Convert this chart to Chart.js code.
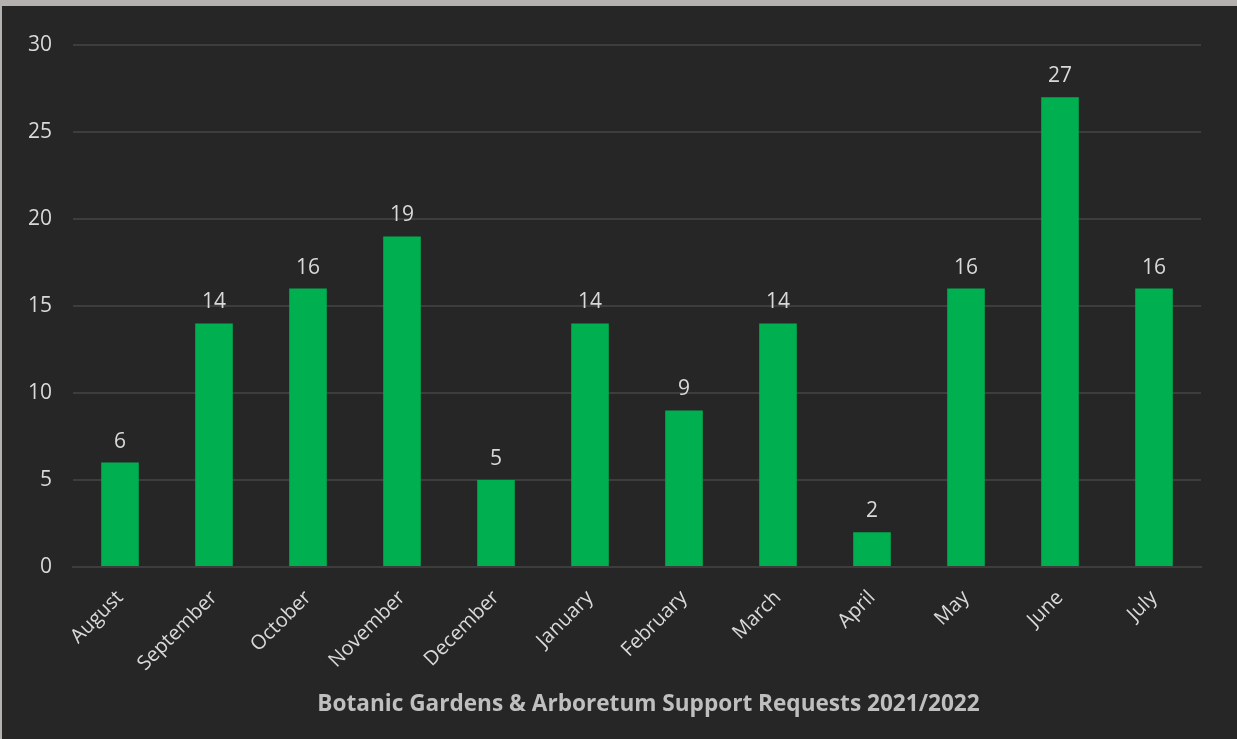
<!DOCTYPE html>
<html>
<head>
<meta charset="utf-8">
<script src="https://cdn.jsdelivr.net/npm/chart.js@4/dist/chart.umd.min.js"></script>
<style>
  html, body { margin: 0; padding: 0; background: #262626; }
  .frame {
    width: 1235px; height: 733px;
    border-top: 6px solid #b5b1af;
    border-left: 2px solid #b5b1af;
    background: #262626;
  }
  canvas { display: block; }
</style>
</head>
<body>
<div class="frame">
  <canvas id="myChart" width="1235" height="733"></canvas>
</div>
<script>
const months = ["August", "September", "October", "November", "December", "January",
  "February", "March", "April", "May", "June", "July"];
const requests = [6, 14, 16, 19, 5, 14, 9, 14, 2, 16, 27, 16];
const yTicks = [0, 5, 10, 15, 20, 25, 30];
const chartTitle = "Botanic Gardens & Arboretum Support Requests 2021/2022";

const textColor = "#d9d9d9";
const fontFamily = "'Open Sans', 'Noto Sans', sans-serif";

// value labels above each bar
const barValues = {
  id: "barValues",
  afterDatasetsDraw(chart) {
    const { ctx } = chart;
    const meta = chart.getDatasetMeta(0);
    ctx.save();
    ctx.fillStyle = textColor;
    ctx.font = "21px " + fontFamily;
    ctx.textAlign = "center";
    ctx.textBaseline = "alphabetic";
    meta.data.forEach((bar, i) => {
      ctx.fillText(String(requests[i]), bar.x, bar.y - 15);
    });
    ctx.restore();
  },
};

// axis title under the month labels
const bottomTitle = {
  id: "bottomTitle",
  afterDraw(chart) {
    const { ctx } = chart;
    ctx.save();
    ctx.fillStyle = "#bfbfbf";
    ctx.font = "bold 22.6px " + fontFamily;
    ctx.textAlign = "center";
    ctx.textBaseline = "middle";
    ctx.fillText(chartTitle, 646.5, 699);
    ctx.restore();
  },
};

const ctx = document.getElementById("myChart");
new Chart(ctx, {
  type: "bar",
  data: {
    labels: months,
    datasets: [
      {
        label: "Requests",
        data: requests,
        backgroundColor: "#00b050",
        barPercentage: 0.4,
        categoryPercentage: 1,
      },
    ],
  },
  options: {
    responsive: false,
    animation: false,
    layout: { padding: { top: 39, right: 36, left: 0, bottom: 0 } },
    plugins: {
      legend: { display: false },
      tooltip: { enabled: false },
      title: { display: false },
    },
    scales: {
      x: {
        grid: { display: false, drawTicks: false },
        border: { display: true, color: "#3d3d3d", width: 2 },
        ticks: {
          color: textColor,
          font: { family: fontFamily, size: 20 },
          minRotation: 45,
          maxRotation: 45,
          padding: 19,
        },
        afterFit(scale) { scale.height = 172; },
      },
      y: {
        min: 0,
        max: 30,
        grid: { color: "#3d3d3d", lineWidth: 2, drawTicks: false },
        border: { display: false },
        afterBuildTicks(scale) { scale.ticks = yTicks.map((v) => ({ value: v })); },
        ticks: {
          color: textColor,
          font: { family: fontFamily, size: 21 },
          padding: 21,
        },
        afterFit(scale) { scale.width = 71; },
      },
    },
  },
  plugins: [barValues, bottomTitle],
});
</script>
</body>
</html>
